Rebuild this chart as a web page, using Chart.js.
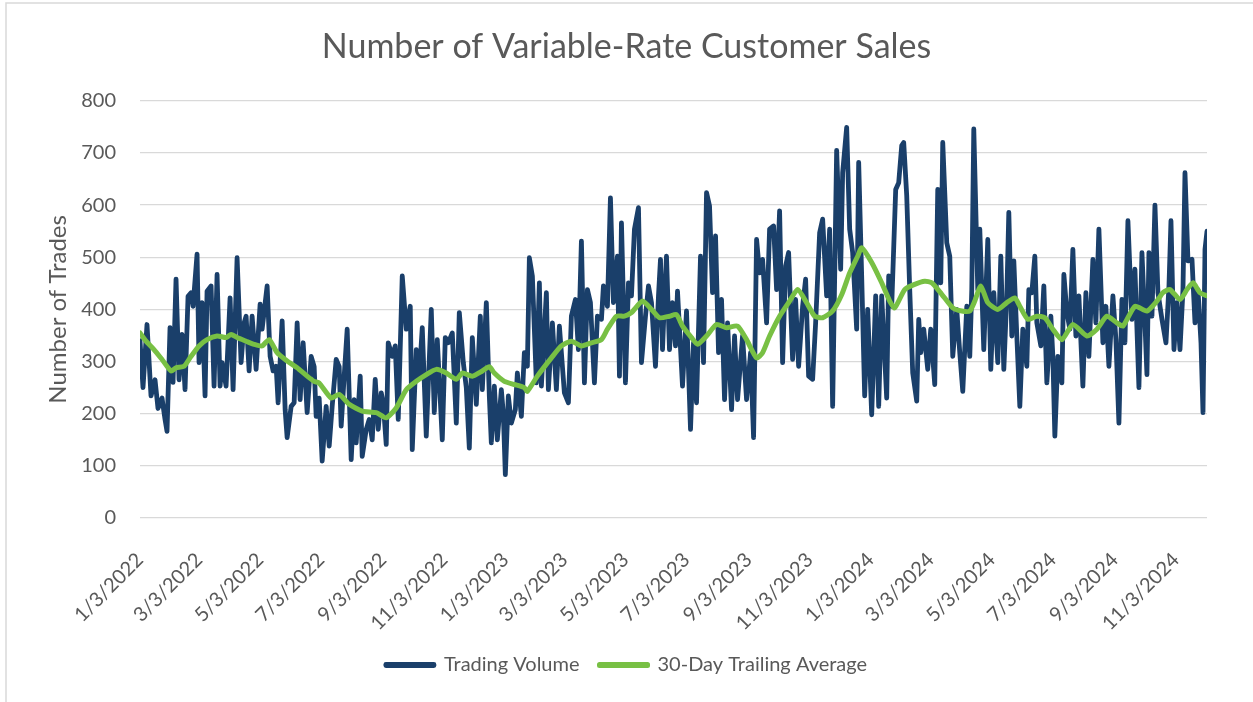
<!DOCTYPE html>
<html>
<head>
<meta charset="utf-8">
<title>Number of Variable-Rate Customer Sales</title>
<script src="https://cdn.jsdelivr.net/npm/chart.js@4.4.1/dist/chart.umd.min.js"></script>
<style>
  html, body { margin: 0; padding: 0; background: #fff; }
  #wrap { width: 1253px; height: 702px; }
</style>
</head>
<body>
<div id="wrap"><canvas id="salesChart" width="1253" height="702"></canvas></div>
<script>
// x values are days since 1/3/2022
const startDate = '1/3/2022';

// Trading Volume
const volDays2022 = [
  0, 3, 7, 11, 15, 18, 22, 25, 27, 30,
  33, 36, 39, 42, 45, 48, 51, 53, 57, 59,
  62, 65, 67, 71, 74, 77, 80, 82, 86, 90,
  93, 97, 101, 104, 106, 109, 112, 116, 120, 122,
  127, 130, 133, 136, 138, 142, 145, 147, 151, 154,
  157, 160, 163, 167, 171, 174, 176, 179, 182, 186,
  189, 192, 196, 199, 201, 204, 207, 211, 214, 216,
  220, 222, 226, 229, 232, 235, 238, 241, 243, 246,
  248, 252, 255, 258, 262, 266, 270, 272, 276, 279,
  282, 286, 291, 294, 297, 302, 305, 308, 312, 316,
  319, 323, 326, 329, 332, 336, 340, 342, 346, 349,
  351, 354, 357, 361, 363
];
const volume2022 = [
  340, 250, 371, 234, 265, 210, 230, 189, 166, 365,
  260, 458, 265, 352, 246, 425, 432, 406, 506, 298,
  413, 234, 435, 445, 253, 467, 253, 298, 253, 422,
  246, 499, 298, 374, 387, 282, 387, 285, 410, 362,
  445, 310, 282, 291, 221, 378, 208, 154, 214, 221,
  374, 227, 336, 202, 310, 290, 195, 230, 109, 214,
  138, 214, 304, 290, 176, 272, 362, 112, 227, 144,
  272, 118, 170, 189, 150, 266, 170, 240, 221, 141,
  336, 310, 330, 189, 464, 362, 406, 131, 323, 272,
  365, 157, 400, 202, 342, 150, 346, 336, 355, 182,
  394, 298, 250, 134, 346, 218, 387, 246, 413, 234,
  144, 253, 150, 246, 200
];

const volDays2023 = [
  365, 368, 371, 375, 377, 381, 384, 387, 389, 392,
  396, 399, 401, 406, 408, 412, 416, 419, 424, 428,
  431, 435, 438, 441, 444, 447, 450, 454, 457, 461,
  463, 467, 470, 473, 477, 479, 481, 485, 488, 491,
  494, 498, 501, 505, 508, 511, 515, 518, 520, 522,
  524, 526, 529, 532, 535, 537, 542, 546, 550, 553,
  556, 560, 563, 566, 569, 572, 575, 578, 581, 584,
  587, 591, 594, 597, 602, 606, 610, 613, 616, 619,
  622, 626, 629, 633, 636, 639, 642, 645, 648, 652,
  655, 658, 662, 665, 668, 672, 675, 679, 682, 686,
  689, 692, 696, 700, 702, 706, 709, 712, 716, 718,
  721, 724, 727
];
const volume2023 = [
  83, 234, 182, 208, 278, 195, 317, 291, 499, 464,
  259, 451, 253, 432, 246, 374, 246, 368, 240, 221,
  387, 419, 323, 531, 259, 438, 413, 259, 387, 381,
  445, 406, 614, 413, 502, 272, 566, 259, 451, 426,
  554, 595, 298, 387, 445, 413, 291, 426, 496, 323,
  419, 502, 323, 413, 330, 435, 253, 397, 170, 336,
  221, 502, 298, 624, 598, 432, 541, 317, 419, 227,
  374, 208, 349, 227, 349, 227, 317, 154, 534, 470,
  496, 374, 554, 560, 438, 589, 298, 483, 509, 304,
  419, 291, 406, 458, 272, 266, 374, 547, 573, 426,
  554, 214, 705, 477, 662, 749, 554, 509, 362, 682,
  464, 234, 400
];

const volDays2024 = [
  731, 735, 738, 741, 746, 748, 751, 755, 758, 761,
  763, 766, 769, 772, 776, 778, 780, 783, 787, 790,
  794, 797, 800, 802, 806, 809, 812, 816, 819, 822,
  826, 829, 831, 833, 837, 839, 843, 847, 850, 853,
  857, 860, 863, 866, 868, 871, 873, 876, 879, 882,
  886, 888, 891, 894, 896, 900, 903, 906, 910, 912,
  914, 917, 921, 923, 926, 929, 932, 935, 938, 942,
  945, 948, 952, 955, 958, 962, 965, 968, 972, 975,
  978, 981, 984, 987, 991, 994, 998, 1001, 1004, 1006,
  1008, 1011, 1014, 1017, 1021, 1025, 1028, 1030, 1033, 1036,
  1039, 1042, 1044, 1047, 1051, 1054, 1057, 1060, 1062, 1064,
  1066
];
const volume2024 = [
  198, 426, 214, 426, 230, 464, 406, 630, 643, 714,
  720, 618, 438, 278, 224, 381, 317, 362, 285, 362,
  256, 630, 451, 720, 528, 502, 310, 400, 317, 243,
  406, 310, 438, 746, 438, 554, 323, 534, 285, 432,
  298, 502, 285, 426, 586, 349, 493, 349, 214, 362,
  291, 438, 432, 502, 374, 330, 445, 259, 387, 310,
  157, 310, 259, 467, 394, 362, 515, 349, 426, 253,
  432, 310, 496, 374, 554, 336, 406, 291, 426, 342,
  182, 419, 336, 570, 381, 477, 250, 509, 374, 275,
  509, 387, 600, 432, 381, 336, 445, 570, 323, 413,
  323, 438, 662, 493, 496, 374, 438, 336, 202, 515,
  550
];

// 30-Day Trailing Average
const avgDays2022 = [
  0, 6, 14, 22, 31, 36, 44, 51, 59, 67,
  77, 86, 91, 97, 106, 114, 122, 129, 137, 147,
  157, 167, 174, 179, 191, 199, 209, 222, 236, 246,
  256, 266, 276, 286, 296, 306, 316, 322, 332, 342,
  349, 354, 364
];
const average2022 = [
  355, 339, 323, 304, 282, 288, 291, 310, 330, 342,
  349, 346, 352, 346, 339, 333, 330, 342, 317, 301,
  288, 272, 262, 259, 230, 237, 218, 205, 202, 192,
  211, 246, 262, 275, 285, 278, 266, 278, 272, 282,
  290, 278, 262
];
const avgDays2023 = [
  374, 384, 387, 397, 411, 421, 431, 441, 451, 461,
  467, 476, 484, 491, 502, 511, 519, 529, 536, 542,
  551, 557, 566, 576, 586, 597, 606, 616, 622, 629,
  639, 649, 657, 666, 674, 682, 692, 701, 709, 717,
  721
];
const average2023 = [
  256, 250, 243, 272, 307, 330, 339, 330, 336, 342,
  362, 387, 387, 394, 416, 400, 384, 387, 390, 368,
  346, 333, 349, 371, 365, 368, 342, 307, 317, 349,
  387, 416, 438, 413, 387, 384, 397, 428, 470, 502,
  518
];
const avgDays2024 = [
  731, 741, 749, 754, 764, 774, 784, 791, 801, 812,
  821, 829, 834, 840, 847, 857, 866, 874, 879, 887,
  896, 904, 912, 921, 932, 946, 956, 966, 976, 982,
  994, 1006, 1016, 1022, 1029, 1039, 1046, 1052, 1059, 1066
];
const average2024 = [
  490, 451, 416, 403, 438, 448, 454, 451, 429, 403,
  397, 397, 416, 445, 413, 400, 413, 422, 406, 381,
  387, 384, 362, 342, 371, 349, 362, 387, 374, 368,
  406, 397, 416, 432, 438, 419, 438, 451, 432, 426
];

// x 軸刻度
const tickLabels = [
  '1/3/2022', '3/3/2022', '5/3/2022', '7/3/2022', '9/3/2022', '11/3/2022',
  '1/3/2023', '3/3/2023', '5/3/2023', '7/3/2023', '9/3/2023', '11/3/2023',
  '1/3/2024', '3/3/2024', '5/3/2024', '7/3/2024', '9/3/2024', '11/3/2024'
];
const lastDay = 1066;

const NAVY = '#1a3f6a';
const GREEN = '#78c044';
const TEXT = '#595959';
const FONT = 'Lato, "Open Sans", sans-serif';

function toUTC(s) {
  const [m, d, y] = s.split('/').map(Number);
  return Date.UTC(y, m - 1, d);
}
function dayOf(s) {
  return Math.round((toUTC(s) - toUTC(startDate)) / 86400000);
}
const tickDays = tickLabels.map(dayOf);

function toPoints(days, values) {
  return days.map((d, i) => ({ x: d, y: values[i] }));
}
const volumePoints = [
  ...toPoints(volDays2022, volume2022),
  ...toPoints(volDays2023, volume2023),
  ...toPoints(volDays2024, volume2024)
];
const averagePoints = [
  ...toPoints(avgDays2022, average2022),
  ...toPoints(avgDays2023, average2023),
  ...toPoints(avgDays2024, average2024)
];

// 外框 (left / top edge of the chart border)
const framePlugin = {
  id: 'frame',
  beforeDraw(chart) {
    const c = chart.ctx;
    c.save();
    c.strokeStyle = '#d9d9d9';
    c.lineWidth = 1.5;
    c.beginPath();
    c.moveTo(6, chart.height);
    c.lineTo(6, 3);
    c.lineTo(chart.width, 3);
    c.stroke();
    c.restore();
  }
};

const ctx = document.getElementById('salesChart').getContext('2d');
new Chart(ctx, {
  type: 'line',
  data: {
    datasets: [{
      label: 'Trading Volume',
      data: volumePoints,
      borderColor: NAVY,
      backgroundColor: NAVY,
      borderWidth: 4.8,
      pointRadius: 0,
      tension: 0,
      borderJoinStyle: 'round',
      borderCapStyle: 'round',
      order: 2
    }, {
      label: '30-Day Trailing Average',
      data: averagePoints,
      borderColor: GREEN,
      backgroundColor: GREEN,
      borderWidth: 5,
      pointRadius: 0,
      tension: 0.2,
      borderJoinStyle: 'round',
      borderCapStyle: 'round',
      order: 1
    }]
  },
  options: {
    responsive: false,
    animation: false,
    devicePixelRatio: 1,
    layout: { padding: { left: 0, right: 0, top: 0, bottom: 17 } },
    plugins: {
      title: {
        display: true,
        text: 'Number of Variable-Rate Customer Sales',
        color: TEXT,
        font: { family: FONT, size: 34, weight: 'normal' },
        padding: { top: 27, bottom: 33 }
      },
      legend: {
        position: 'bottom',
        labels: {
          boxWidth: 48,
          boxHeight: 1,
          color: TEXT,
          font: { family: FONT, size: 20 },
          padding: 20,
          sort: (a, b) => a.datasetIndex - b.datasetIndex
        }
      },
      tooltip: { enabled: false }
    },
    scales: {
      x: {
        type: 'linear',
        min: 0,
        max: lastDay,
        grid: { display: false },
        border: { display: false },
        afterBuildTicks: scale => {
          scale.ticks = tickDays.map(v => ({ value: v }));
        },
        ticks: {
          autoSkip: false,
          minRotation: 45,
          maxRotation: 45,
          padding: 22,
          color: TEXT,
          font: { family: FONT, size: 20 },
          callback: value => tickLabels[tickDays.indexOf(value)]
        },
        afterFit: scale => { scale.height = 117; }
      },
      y: {
        min: 0,
        max: 800,
        ticks: {
          stepSize: 100,
          padding: 24,
          color: TEXT,
          font: { family: FONT, size: 20 }
        },
        grid: { color: '#d9d9d9', lineWidth: 1.3, drawTicks: false },
        border: { display: false },
        title: {
          display: true,
          text: 'Number of Trades',
          color: TEXT,
          font: { family: FONT, size: 24 },
          padding: { top: 44, bottom: 0 }
        },
        afterFit: scale => { scale.width = 140; }
      },
      yRight: {
        position: 'right',
        grid: { display: false },
        border: { display: false },
        ticks: { display: false },
        afterFit: scale => { scale.width = 46; }
      }
    }
  },
  plugins: [framePlugin]
});
</script>
</body>
</html>
